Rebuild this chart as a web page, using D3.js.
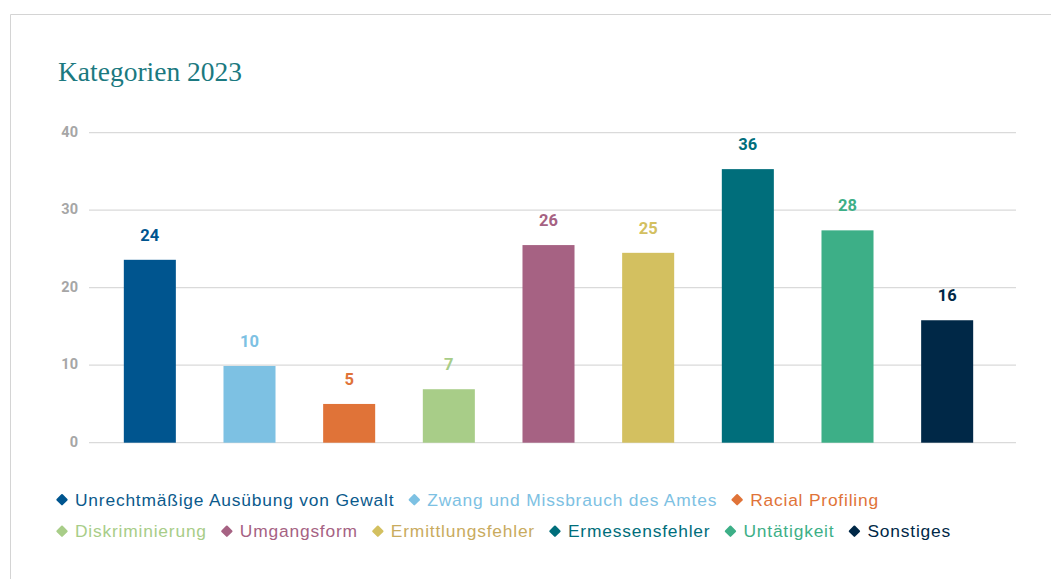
<!DOCTYPE html>
<html>
<head>
<meta charset="utf-8">
<script src="https://cdn.jsdelivr.net/npm/d3@7"></script>
<style>
  body { margin: 0; background: #fff; }
  svg { display: block; }
</style>
</head>
<body>
<svg id="chart" width="1051" height="579"></svg>
<script>
// categories + values
const categories = [
    'Unrechtmäßige Ausübung von Gewalt',
    'Zwang und Missbrauch des Amtes',
    'Racial Profiling',
    'Diskriminierung',
    'Umgangsform',
    'Ermittlungsfehler',
    'Ermessensfehler',
    'Untätigkeit',
    'Sonstiges'
];
// bar heights as drawn (slightly under the printed labels in the original)
const barValues = [23.6, 9.9, 5.0, 6.9, 25.5, 24.5, 35.3, 27.4, 15.8];
// printed labels above the bars
const labelValues = [24, 10, 5, 7, 26, 25, 36, 28, 16];
const barColors = ['#00558f', '#7dc1e3', '#e07338', '#a8cd88', '#a66283', '#d3c060', '#006e7b', '#3daf87', '#002847'];
const legendTextColors = ['#0b5a8c', '#7dc1e3', '#e07338', '#a8cd88', '#a66283', '#c9ab5e', '#006e7b', '#3daf87', '#002847'];
const yTicks = [0, 10, 20, 30, 40];

const svg = d3.select('#chart');

// light frame (top + left edge)
svg.append('path')
    .attr('d', 'M10.5,579 V14.5 H1051')
    .attr('fill', 'none')
    .attr('stroke', '#d4d4d4')
    .attr('stroke-width', 1);

// title
svg.append('text')
    .attr('x', 58)
    .attr('y', 80.5)
    .attr('font-family', '"Liberation Serif", serif')
    .attr('font-size', 27.5)
    .attr('fill', '#1b7980')
    .text('Kategorien 2023');

const y = d3.scaleLinear().domain([0, 40]).range([442.7, 132.7]);
const x = d3.scaleBand()
    .domain(categories)
    .range([100, 997])
    .paddingInner(0.478)
    .paddingOuter(0.239);

// gridlines
svg.append('g')
    .selectAll('line')
    .data(yTicks)
    .join('line')
    .attr('x1', 89)
    .attr('x2', 1016)
    .attr('y1', d => y(d))
    .attr('y2', d => y(d))
    .attr('stroke', '#dadada')
    .attr('stroke-width', 1.3);

// y tick labels
svg.append('g')
    .selectAll('text')
    .data(yTicks)
    .join('text')
    .attr('x', 78)
    .attr('y', d => y(d) + 4)
    .attr('text-anchor', 'end')
    .attr('font-family', 'Roboto, sans-serif')
    .attr('font-weight', 700)
    .attr('font-size', 14.5)
    .attr('fill', '#a6a6a6')
    .text(d => d);

// bars
svg.append('g')
    .selectAll('rect')
    .data(categories)
    .join('rect')
    .attr('x', d => x(d))
    .attr('width', x.bandwidth())
    .attr('y', (d, i) => y(barValues[i]))
    .attr('height', (d, i) => y(0) - y(barValues[i]))
    .attr('fill', (d, i) => barColors[i]);

// value labels
svg.append('g')
    .selectAll('text')
    .data(categories)
    .join('text')
    .attr('x', d => x(d) + x.bandwidth() / 2)
    .attr('y', (d, i) => y(barValues[i]) - 19)
    .attr('text-anchor', 'middle')
    .attr('font-family', 'Roboto, sans-serif')
    .attr('font-weight', 700)
    .attr('font-size', 16.5)
    .attr('fill', (d, i) => barColors[i])
    .text((d, i) => labelValues[i]);

// legend: two rows, diamonds + labels laid out one after another
const legendRows = [[0, 1, 2], [3, 4, 5, 6, 7, 8]];
const rowBaselines = [505.5, 537];
const legend = svg.append('g');

legendRows.forEach((row, r) => {
    let cx = 56;
    row.forEach(i => {
        const g = legend.append('g');
        g.append('rect')
            .attr('x', -4.3)
            .attr('y', -4.3)
            .attr('width', 8.6)
            .attr('height', 8.6)
            .attr('rx', 1)
            .attr('transform', `translate(${cx + 6},${rowBaselines[r] - 5.8}) rotate(45)`)
            .attr('fill', barColors[i]);
        const t = g.append('text')
            .attr('x', cx + 19)
            .attr('y', rowBaselines[r])
            .attr('font-family', '"Liberation Sans", Arial, sans-serif')
            .attr('font-size', 17.4)
            .attr('letter-spacing', 0.8)
            .attr('fill', legendTextColors[i])
            .text(categories[i]);
        cx = cx + 19 + t.node().getComputedTextLength() + 14;
    });
});
</script>
</body>
</html>
